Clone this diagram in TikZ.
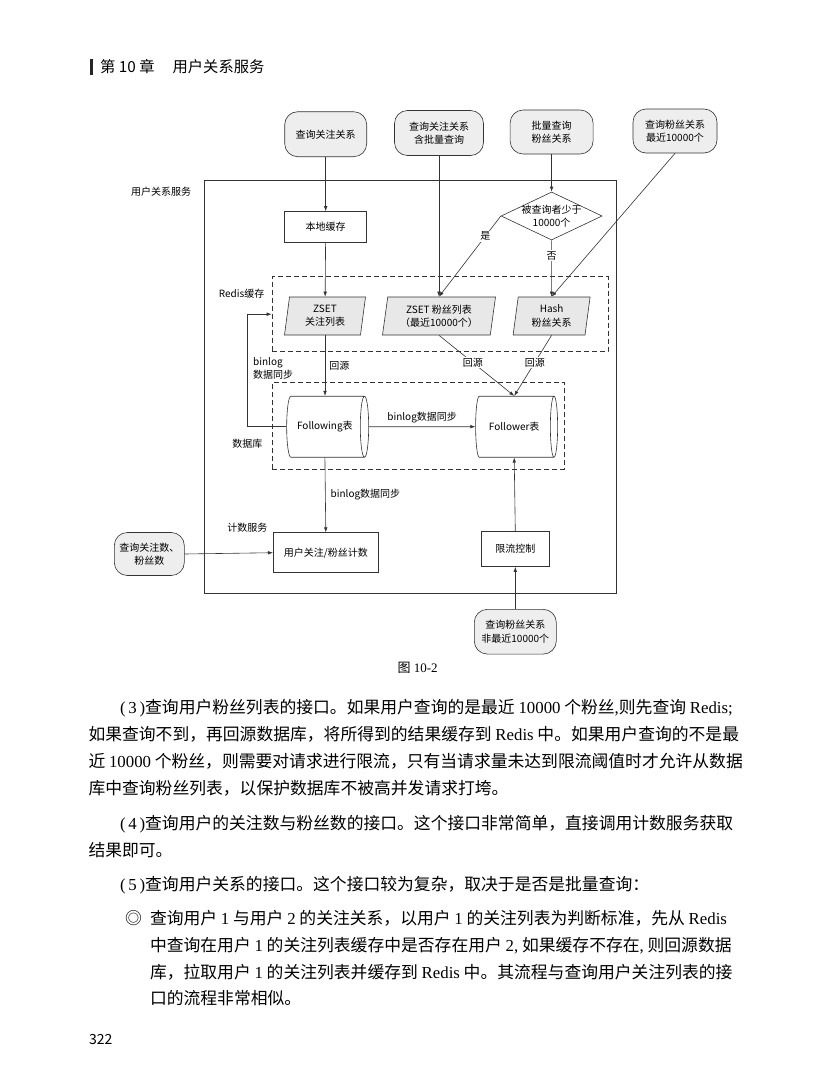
\documentclass[tikz,border=0pt]{standalone}
\usepackage{fontspec}
\setmainfont{Liberation Serif}
\newfontfamily\cjk{Noto Sans CJK SC}
\usetikzlibrary{shapes.geometric,arrows.meta}
\XeTeXlinebreaklocale "zh"
\XeTeXlinebreakskip=0pt plus 3pt minus 0.4pt
\newcommand\rs[1]{{\rmfamily #1}}
\newcommand\dfont{\cjk\fontsize{10}{13.3}\selectfont}
\newcommand\btfont{\cjk\fontsize{16.8}{27}\selectfont}
\tikzset{
 ln/.style={draw=black!80, line width=0.6pt},
 arr/.style={ln, -{Latex[length=5pt,width=3.6pt]}},
 term/.style={ln, fill=gray!13, rounded corners=13pt, align=center, font=\dfont, inner sep=1pt},
 box/.style={ln, fill=white, align=center, font=\dfont, inner sep=1pt},
 para/.style={ln, fill=gray!18, trapezium, trapezium left angle=78, trapezium right angle=102,
   trapezium stretches body, align=center, font=\dfont, inner sep=1pt, minimum height=38pt},
 cyl/.style={ln, fill=white, cylinder, shape border rotate=0, aspect=0.65,
   minimum height=82pt, minimum width=61pt, font=\dfont, inner sep=1pt},
 dbox/.style={draw=black!80, line width=0.7pt, dash pattern=on 5pt off 3pt},
 lab/.style={font=\dfont, inner sep=1pt, align=center},
 onl/.style={lab, fill=white},
 bodyj/.style={anchor=north west, inner sep=0pt, outer sep=0pt, font=\btfont, align=justify},
 bodyn/.style={anchor=north west, inner sep=0pt, outer sep=0pt, font=\btfont},
}
\begin{document}
\begin{tikzpicture}[x=1pt,y=-1pt]
\path[use as bounding box, fill=white] (0,0) rectangle (814,1076);

% header
\draw[line width=2.6pt, black!85] (91.7,58.5) -- (91.7,75);
\node[anchor=west, font=\cjk\fontsize{15.3}{18}\selectfont, inner sep=0pt] (hdr) at (100,66.7) {第 10 章\hspace{18pt}用户关系服务};

% outer frame
\draw[ln] (204.5,180) rectangle (616.6,593);
\node[lab] (svc) at (161,191.7) {用户关系服务};

% dashed groups
\node[dbox, minimum width=336pt, minimum height=75pt] (redis) at (440,314.2) {};
\node[dbox, minimum width=292pt, minimum height=86.6pt] (db) at (418.2,426) {};
\node[lab] (redisl) at (241.6,293.3) {Redis缓存};
\node[lab] (dbl) at (247.3,444) {数据库};
\node[lab] (cntl) at (247.3,527.7) {计数服务};

% terminals
\node[term, minimum width=82pt, minimum height=45pt] (t1) at (325.7,134.2) {查询关注关系};
\node[term, minimum width=89pt, minimum height=45pt] (t2) at (439,133) {查询关注关系\\含批量查询};
\node[term, minimum width=83pt, minimum height=44pt] (t3) at (551.6,132) {批量查询\\粉丝关系};
\node[term, minimum width=84pt, minimum height=44pt] (t4) at (675,131) {查询粉丝关系\\最近10000个};
\node[term, minimum width=70pt, minimum height=43pt] (qc) at (149.3,554) {查询关注数、\\粉丝数};
\node[term, minimum width=82pt, minimum height=44.7pt] (bt) at (515.3,631.7) {查询粉丝关系\\非最近10000个};

% boxes
\node[box, minimum width=82pt, minimum height=31pt] (lc) at (325.7,227) {本地缓存};
\node[ln, fill=white, diamond, minimum width=101pt, minimum height=48pt, inner sep=0pt] (dia) at (551.6,216) {};
\node[lab] (dial) at (dia.center) {被查询者少于\\10000个};
\node[box, minimum width=105pt, minimum height=40pt] (cnt) at (325.8,552.7) {用户关注/粉丝计数};
\node[box, minimum width=67.4pt, minimum height=35pt] (rl) at (515.3,549) {限流控制};

% parallelograms
\node[para, minimum width=81pt] (z1) at (325,316) {ZSET\\关注列表};
\node[para, minimum width=113pt] (z2) at (439,316) {ZSET 粉丝列表\\（最近10000个）};
\node[para, minimum width=77pt] (hs) at (551.6,316) {Hash\\粉丝关系};

% cylinders
\node[cyl] (fo) at (324.9,426.7) {Following表};
\node[cyl] (fr) at (514.2,426.7) {Follower表};

% connectors
\draw[arr] (t1) -- (lc);
\draw[arr] (lc) -- (z1);
\draw[arr] (t2) -- (z2);
\draw[arr] (t3) -- (dia);
\draw[arr] (dia.west) -- node[onl, pos=0.25] (yes) {是} (z2.north);
\draw[arr] (dia.south) -- node[onl, pos=0.27] (no) {否} (hs.north);
\draw[arr] (t4.south) -- (hs.north);
\draw[arr] (z1.south) -- node[lab, pos=0.5, anchor=west, xshift=3pt] (hy1) {回源} (z1.south |- fo.north);
\draw[arr] (z2.south) -- node[onl, pos=0.45] (hy2) {回源} (fr.north);
\draw[arr] (hs.south) -- node[onl, pos=0.45] (hy3) {回源} (fr.north);
\draw[arr] (fo.east) -- node[lab, above, yshift=2pt] (bl1) {binlog数据同步} (fr.west);
\coordinate (fb) at (247.3,426.7);
\draw[arr] (fo.west) -- (fb) |- (redis.west);
\node[lab, anchor=west, align=left] (bl0) at (252,368.5) {binlog\\数据同步};
\draw[arr] (fo.south) -- node[lab, anchor=west, pos=0.5, xshift=4pt] (bl2) {binlog数据同步} (cnt.north);
\draw[arr] (qc.east) -- (cnt.west);
\draw[arr] (rl.north) -- (fr.south);
\draw[arr] (bt.north) -- (rl.south);

% caption
\node[inner sep=0pt, font=\fontsize{13}{15}\selectfont] (cap) at (417.6,668.3) {{\cjk 图} 10-2};

% body text
\node[bodyj, text width=626pt] (p1) at (120,699.6) {\parfillskip=0pt \rs{(\,3\,)}查询用户粉丝列表的接口。如果用户查询的是最近 \rs{10000} 个粉丝\rs{,}则先查询 \rs{Redis;}};
\node[bodyj, text width=658pt] (p2) at (88.5,726.6) {\parfillskip=0pt 如果查询不到，再回源数据库，将所得到的结果缓存到 \rs{Redis} 中。如果用户查询的不是最};
\node[bodyj, text width=658pt] (p3) at (88.5,753.6) {\parfillskip=0pt 近 \rs{10000} 个粉丝，则需要对请求进行限流，只有当请求量未达到限流阈值时才允许从数据};
\node[bodyn] (p4) at (88.5,780) {库中查询粉丝列表，以保护数据库不被高并发请求打垮。};
\node[bodyj, text width=626pt] (p5) at (120,815.6) {\parfillskip=0pt \rs{(\,4\,)}查询用户的关注数与粉丝数的接口。这个接口非常简单，直接调用计数服务获取};
\node[bodyn] (p6) at (88.5,842.6) {结果即可。};
\node[bodyn] (p7) at (120,876.6) {\rs{(\,5\,)}查询用户关系的接口。这个接口较为复杂，取决于是否是批量查询：};
\node[bodyn] (bul) at (125,910.6) {◎};
\node[bodyj, text width=596pt] (p8) at (150,910.6) {\parfillskip=0pt 查询用户 \rs{1} 与用户 \rs{2} 的关注关系，以用户 \rs{1} 的关注列表为判断标准，先从 \rs{Redis}};
\node[bodyj, text width=596pt] (p9) at (150,937.6) {\parfillskip=0pt 中查询在用户 \rs{1} 的关注列表缓存中是否存在用户 \rs{2}\rs{,} 如果缓存不存在\rs{,} 则回源数据};
\node[bodyj, text width=596pt] (p10) at (150,964) {\parfillskip=0pt 库，拉取用户 \rs{1} 的关注列表并缓存到 \rs{Redis} 中。其流程与查询用户关注列表的接};
\node[bodyn] (p11) at (150,990.6) {口的流程非常相似。};

% page number
\node[anchor=west, inner sep=0pt, font=\cjk\fontsize{14}{16}\selectfont] (pg) at (89,1039) {322};
\end{tikzpicture}
\end{document}
